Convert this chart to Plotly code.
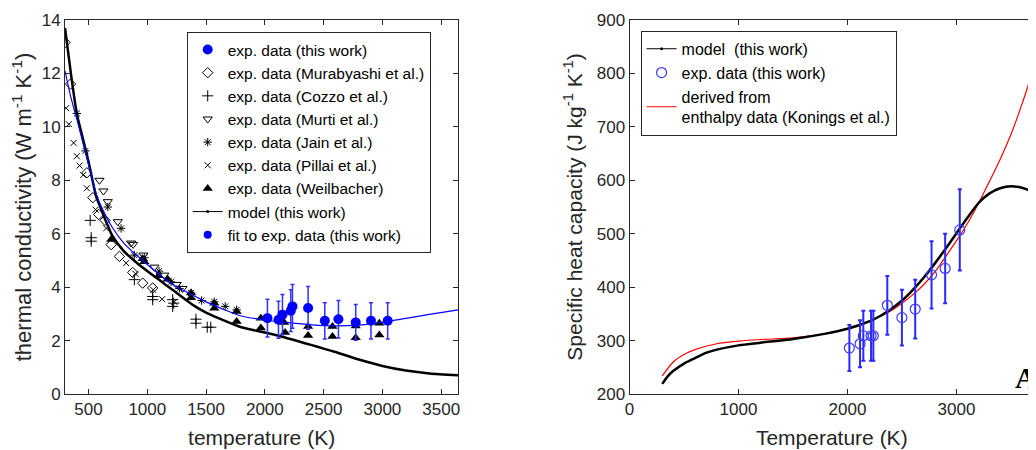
import plotly.graph_objects as go

# ---------------- Left panel: thermal conductivity ----------------
model_k_T = [300, 350, 400, 450, 500, 565, 600, 700, 800, 900, 1000, 1200, 1400, 1500, 1600,
             1800, 2000, 2200, 2400, 2500, 2600, 2800, 3000, 3200, 3400, 3645]
model_k = [13.7, 12.0, 10.5, 9.6, 8.7, 7.4, 7.0, 5.95, 5.35, 4.95, 4.6, 3.95, 3.3, 3.05, 2.85,
           2.5, 2.3, 2.08, 1.83, 1.70, 1.57, 1.29, 1.05, 0.88, 0.77, 0.70]

fit_T = [300, 350, 400, 500, 565, 600, 700, 800, 1000, 1200, 1500, 1800, 2000, 2200, 2400,
         2600, 2800, 3000, 3200, 3400, 3645]
fit_k = [12.1, 11.1, 10.3, 8.6, 7.5, 7.1, 6.25, 5.65, 4.85, 4.15, 3.45, 2.92, 2.77, 2.67, 2.59,
         2.55, 2.58, 2.68, 2.83, 2.98, 3.15]

tw_T = [2022, 2116, 2150, 2221, 2235, 2368, 2510, 2626, 2773, 2903, 3045]
tw_k = [2.84, 2.78, 2.97, 3.12, 3.28, 3.22, 2.74, 2.80, 2.68, 2.74, 2.74]
tw_err = [0.71, 0.69, 0.75, 0.78, 0.82, 0.80, 0.68, 0.70, 0.67, 0.68, 0.68]

mur_T = [301, 347, 486, 537, 587, 640, 693, 763, 876, 961, 1046]
mur_k = [13.16, 11.6, 8.28, 7.35, 6.72, 6.5, 5.59, 5.15, 4.55, 4.15, 3.97]

coz_T = [514, 523, 523, 890, 1046, 1046, 1216, 1225, 1216, 1414, 1414, 1510, 1540]
coz_k = [6.5, 5.85, 5.72, 4.28, 3.65, 3.53, 3.53, 3.4, 3.28, 2.8, 2.65, 2.5, 2.5]

murti_T = [593, 627, 664, 749, 862, 880, 967, 1060, 1145, 1250, 1300]
murti_k = [8.0, 7.6, 7.2, 6.45, 5.65, 5.6, 5.2, 4.75, 4.45, 4.1, 3.95]

jain_T = [401, 474, 664, 777, 890, 975, 1100, 1202, 1273, 1372, 1462, 1570, 1663, 1760]
jain_k = [10.5, 9.1, 7.0, 6.2, 5.2, 5.1, 4.6, 4.2, 3.95, 3.78, 3.5, 3.45, 3.28, 3.15]

pil_T = [310, 333, 373, 401, 424, 455, 486, 560, 650, 820, 900, 1050, 1126, 1230]
pil_k = [10.7, 10.1, 9.4, 8.9, 8.55, 8.2, 7.7, 6.9, 6.2, 4.9, 4.5, 3.9, 3.55, 3.45]

weil_T = [693, 961, 975, 1097, 1173, 1372, 1372, 1570, 1570, 1760, 1760, 1966, 1966, 2164,
          2172, 2368, 2368, 2575, 2575, 2773, 2773, 2974, 2974]
weil_k = [5.78, 5.06, 4.95, 4.43, 4.3, 3.78, 3.6, 3.4, 3.21, 3.09, 2.71, 2.84, 2.47, 2.68,
          2.3, 2.53, 2.19, 2.53, 2.15, 2.55, 2.11, 2.65, 2.21]

left_xticks = [500, 1000, 1500, 2000, 2500, 3000, 3500]
left_yticks = [0, 2, 4, 6, 8, 10, 12, 14]

# ---------------- Right panel: specific heat capacity ----------------
model_c_T = [300, 350, 400, 500, 600, 700, 800, 1000, 1200, 1500, 1800, 2000, 2200, 2300, 2400,
             2500, 2600, 2700, 2800, 2900, 3000, 3100, 3200, 3300, 3400, 3500, 3600, 3711]
model_c = [219, 233, 243, 257, 267, 277, 283, 291, 296, 303, 313, 322, 336, 346, 359,
           375, 395, 418, 444, 472, 501, 530, 557, 575, 585, 589, 586, 578]

kon_T = [300, 400, 500, 600, 800, 1000, 1200, 1500, 1800, 2000, 2200, 2400, 2500, 2600, 2700,
         2800, 2900, 3000, 3100, 3200, 3300, 3400, 3500, 3600, 3711]
kon_c = [234, 260, 274, 283, 294, 299, 302, 305, 313, 323, 337, 356, 370, 386, 405,
         428, 457, 487, 519, 556, 597, 639, 686, 742, 811]

cp_T = [2017, 2115, 2145, 2216, 2237, 2365, 2499, 2621, 2771, 2896, 3030]
cp = [286, 294, 309, 309, 309, 366, 343, 359, 423, 435, 507]
cp_err = [43, 44, 47, 47, 47, 55, 52, 55, 63, 65, 76]

right_xticks = [0, 1000, 2000, 3000]
right_yticks = [200, 300, 400, 500, 600, 700, 800, 900]

FONT = "Arial, Liberation Sans, sans-serif"
AX = "#262626"
BLUE = "#0000ff"

fig = go.Figure()


def mk(symbol, size=7, lw=1):
    return dict(symbol=symbol, size=size, color="black", line=dict(color="black", width=lw))


fig.add_trace(go.Scatter(x=mur_T, y=mur_k, mode="markers", name="exp. data (Murabyashi et al.)",
                         marker=mk("diamond-open", 8), xaxis="x", yaxis="y", legend="legend"))
fig.add_trace(go.Scatter(x=coz_T, y=coz_k, mode="markers", name="exp. data (Cozzo et al.)",
                         marker=mk("cross-thin-open", 8), xaxis="x", yaxis="y", legend="legend"))
fig.add_trace(go.Scatter(x=murti_T, y=murti_k, mode="markers", name="exp. data (Murti et al.)",
                         marker=mk("triangle-down-open", 8), xaxis="x", yaxis="y", legend="legend"))
fig.add_trace(go.Scatter(x=jain_T, y=jain_k, mode="markers", name="exp. data (Jain et al.)",
                         marker=mk("asterisk-open", 7), xaxis="x", yaxis="y", legend="legend"))
fig.add_trace(go.Scatter(x=pil_T, y=pil_k, mode="markers", name="exp. data (Pillai et al.)",
                         marker=mk("x-thin-open", 6), xaxis="x", yaxis="y", legend="legend"))
fig.add_trace(go.Scatter(x=weil_T, y=weil_k, mode="markers", name="exp. data (Weilbacher)",
                         marker=dict(symbol="triangle-up", size=9, color="black"),
                         xaxis="x", yaxis="y", legend="legend"))
fig.add_trace(go.Scatter(x=model_k_T, y=model_k, mode="lines",
                         line=dict(color="black", width=2.5, shape="spline", smoothing=0.6),
                         showlegend=False, xaxis="x", yaxis="y"))
fig.add_trace(go.Scatter(x=[None], y=[None], mode="lines+markers", name="model (this work)",
                         line=dict(color="black", width=1), marker=dict(size=3, color="black"),
                         xaxis="x", yaxis="y", legend="legend"))
fig.add_trace(go.Scatter(x=fit_T, y=fit_k, mode="lines",
                         line=dict(color=BLUE, width=1.2, shape="spline", smoothing=0.6),
                         showlegend=False, xaxis="x", yaxis="y"))
fig.add_trace(go.Scatter(x=[None], y=[None], mode="markers", name="fit to exp. data (this work)",
                         marker=dict(size=8, color=BLUE), xaxis="x", yaxis="y", legend="legend"))
fig.add_trace(go.Scatter(x=tw_T, y=tw_k, mode="markers", name="exp. data (this work)",
                         marker=dict(size=10, color=BLUE),
                         error_y=dict(type="data", array=tw_err, color="#3030ff", thickness=1.5, width=2),
                         xaxis="x", yaxis="y", legend="legend", legendrank=1))

# right panel traces
fig.add_trace(go.Scatter(x=kon_T, y=kon_c, mode="lines",
                         line=dict(color="#ff0000", width=1.2, shape="spline", smoothing=0.6),
                         name="derived from<br>enthalpy data (Konings et al.)", xaxis="x2", yaxis="y2",
                         legend="legend2", legendrank=3))
fig.add_trace(go.Scatter(x=model_c_T, y=model_c, mode="lines",
                         line=dict(color="black", width=2.5, shape="spline", smoothing=0.6),
                         showlegend=False, xaxis="x2", yaxis="y2"))
fig.add_trace(go.Scatter(x=[None], y=[None], mode="lines+markers", name="model  (this work)",
                         line=dict(color="black", width=1), marker=dict(size=3, color="black"),
                         xaxis="x2", yaxis="y2", legend="legend2", legendrank=1))
fig.add_trace(go.Scatter(x=cp_T, y=cp, mode="markers", name="exp. data (this work)",
                         marker=dict(symbol="circle-open", size=10, color="#3b3bff", line=dict(width=1.2)),
                         error_y=dict(type="data", array=cp_err, color="#2a2aff", thickness=2, width=2),
                         xaxis="x2", yaxis="y2", legend="legend2", legendrank=2))

axis_common = dict(showgrid=False, zeroline=False, linecolor=AX, linewidth=1, ticks="inside",
                   ticklen=5, tickcolor=AX, tickfont=dict(family=FONT, size=17, color=AX))

TITLE_FONT = dict(family=FONT, size=21, color=AX)

fig.update_layout(
    width=1028, height=442,
    margin=dict(l=57, r=0, t=12, b=56),
    paper_bgcolor="white", plot_bgcolor="white",
    font=dict(family=FONT, color=AX),
    showlegend=True,
    xaxis=dict(domain=[0, 0.4058], range=[300, 3645], tickvals=left_xticks, anchor="y",
               mirror="ticks", showline=True,
               title=dict(text="temperature (K)", standoff=11, font=TITLE_FONT), **axis_common),
    yaxis=dict(domain=[0, 1], range=[0, 14], tickvals=left_yticks, anchor="x",
               mirror="ticks", showline=True,
               title=dict(text="thermal conductivity (W m<sup>-1</sup> K<sup>-1</sup>)", standoff=7,
                          font=dict(family=FONT, size=22, color=AX)),
               **axis_common),
    xaxis2=dict(domain=[0.5826, 1.0], range=[0, 3711], tickvals=right_xticks, anchor="y2",
                mirror="ticks", showline=True,
                title=dict(text="Temperature (K)", standoff=11, font=TITLE_FONT), **axis_common),
    yaxis2=dict(domain=[0, 1], range=[200, 900], tickvals=right_yticks, anchor="x2",
                mirror=False, showline=True,
                title=dict(text="Specific heat capacity (J kg<sup>-1</sup> K<sup>-1</sup>)", standoff=8,
                           font=TITLE_FONT),
                **axis_common),
    legend=dict(x=0.1256, y=0.968, xanchor="left", yanchor="top", bgcolor="white",
                bordercolor=AX, borderwidth=1, font=dict(family=FONT, size=15.5, color="black"),
                traceorder="normal"),
    legend2=dict(x=0.594, y=0.971, xanchor="left", yanchor="top", bgcolor="white",
                 bordercolor=AX, borderwidth=1, font=dict(family=FONT, size=16, color="black"),
                 traceorder="normal"),
    annotations=[dict(text="<b>A</b>", x=0.978, y=0.045, xref="paper", yref="paper",
                      xanchor="left", yanchor="middle", showarrow=False,
                      font=dict(family="Liberation Serif, Times New Roman, serif", size=30, color="black"))],
)

fig.write_html("out.html")
